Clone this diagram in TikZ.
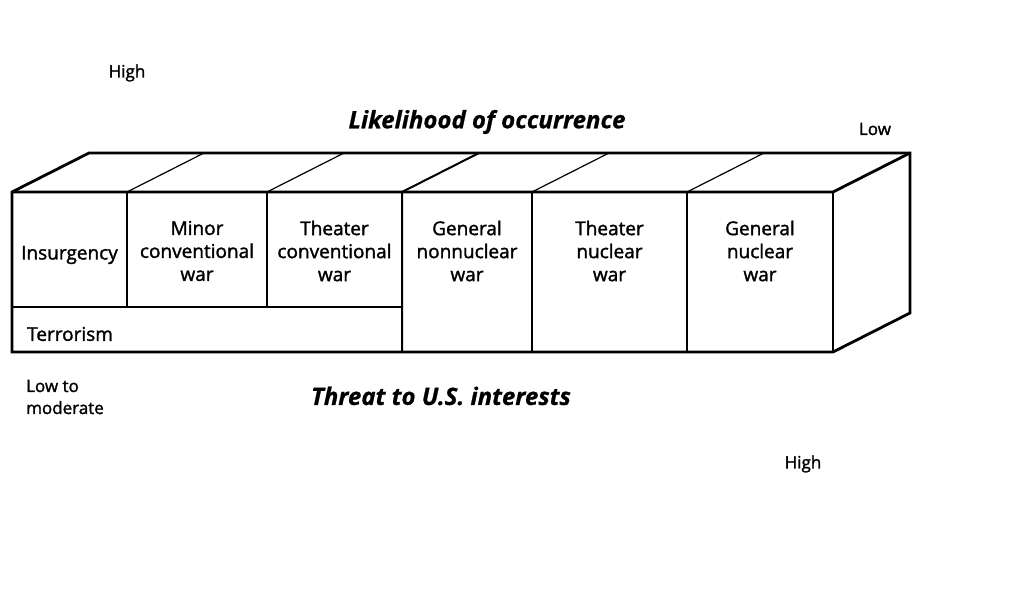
\documentclass[tikz,border=0pt]{standalone}
\usepackage{fontspec}
\setmainfont{Open Sans}
\begin{document}
\begin{tikzpicture}[x=1pt,y=-1pt,
  outer/.style={line width=2.8pt,line join=miter},
  mid/.style={line width=2pt},
  thin/.style={line width=1.2pt},
  cell/.style={align=center,inner sep=0pt,font=\fontsize{19}{23}\selectfont\addfontfeatures{FakeBold=1.6}},
  lab/.style={align=left,inner sep=0pt,font=\fontsize{17}{22}\selectfont\addfontfeatures{FakeBold=1.6}},
  title/.style={inner sep=0pt,font=\fontsize{24}{28}\selectfont\bfseries\itshape\addfontfeatures{FakeBold=0.8}}]
\fill[white] (0,0) rectangle (1015,609);
\useasboundingbox (0,0) rectangle (1015,609);
% corners
\coordinate (FL) at (12,192); \coordinate (FR) at (833,192);
\coordinate (BL) at (12,352); \coordinate (BR) at (833,352);
\coordinate (TL) at (89,153); \coordinate (TR) at (910,153);
\coordinate (RB) at (910,313);
% thin dividers
\draw[thin] (127,192) -- (127,307) (267,192) -- (267,307);
\draw[thin] (532,192) -- (532,352) (687,192) -- (687,352);
\draw[thin] (12,307) -- (402,307);
\draw[thin] (127,192) -- (204,153) (267,192) -- (344,153)
            (532,192) -- (609,153) (687,192) -- (764,153);
\draw[mid] (402,192) -- (402,352) (402,192) -- (479,153);
% outline
\draw[outer] (BL) -- (FL) -- (TL) -- (TR) -- (RB) -- (BR) -- cycle;
\draw[outer] (FL) -- (FR) -- (TR);
\draw[outer] (FR) -- (BR);
% cell texts
\node[cell] (ins) at (69.5,255) {Insurgency};
\node[cell] (minor) at (197,251) {Minor\\conventional\\war};
\node[cell] (theat) at (334.5,251) {Theater\\conventional\\war};
\node[cell] (gennon) at (467,251) {General\\nonnuclear\\war};
\node[cell] (thnuc) at (609.5,251) {Theater\\nuclear\\war};
\node[cell] (gennuc) at (760,251) {General\\nuclear\\war};
\node[cell,anchor=west] (terr) at (27,334) {Terrorism};
% labels
\node[lab] (hightop) at (127,73) {High};
\node[lab] (low) at (875,129) {Low};
\node[lab,anchor=west] (lowmod) at (26,397) {Low to\\moderate};
\node[lab] (highbot) at (803,464) {High};
\node[title] (likely) at (487,122) {Likelihood of occurrence};
\node[title] (threat) at (441,396) {Threat to U.S. interests};
\end{tikzpicture}
\end{document}
